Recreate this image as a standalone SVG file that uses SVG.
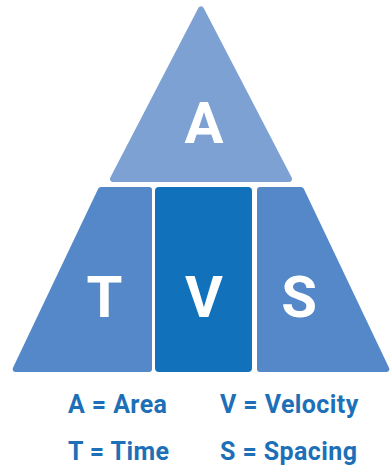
<svg xmlns="http://www.w3.org/2000/svg" width="391" height="468" viewBox="0 0 391 468">
<style>
.shape{stroke-width:6;stroke-linejoin:round}
.top{fill:#7ea1d4;stroke:#7ea1d4}
.side{fill:#5588c8;stroke:#5588c8}
.mid{fill:#1172bb}
.big{font-family:Roboto,"Liberation Sans",sans-serif;font-weight:700;font-size:58px;fill:#ffffff;text-anchor:middle}
.leg{font-family:Roboto,"Liberation Sans",sans-serif;font-weight:700;font-size:25px;letter-spacing:0.4px;fill:#1d70b7}
</style>
<rect width="391" height="468" fill="#ffffff"/>
<g id="node-area">
<polygon class="shape top" points="201,9.5 113,179 289,179"/>
<text class="big" x="204" y="143">A</text>
</g>
<g id="node-time">
<polygon class="shape side" points="100.9,190 149,190 149,369 15.7,369"/>
<text class="big" x="104.5" y="317">T</text>
</g>
<g id="node-velocity">
<rect class="mid" x="155" y="187" width="97" height="185" rx="4"/>
<text class="big" x="204" y="317">V</text>
</g>
<g id="node-spacing">
<polygon class="shape side" points="260,190 301.1,190 386.3,369 260,369"/>
<text class="big" x="299" y="317">S</text>
</g>
<g id="connectors"></g>
<g id="legend">
<text class="leg" x="68" y="413">A = Area</text>
<text class="leg" x="220" y="413">V = Velocity</text>
<text class="leg" x="68" y="460">T = Time</text>
<text class="leg" x="220" y="460">S = Spacing</text>
</g>
</svg>
